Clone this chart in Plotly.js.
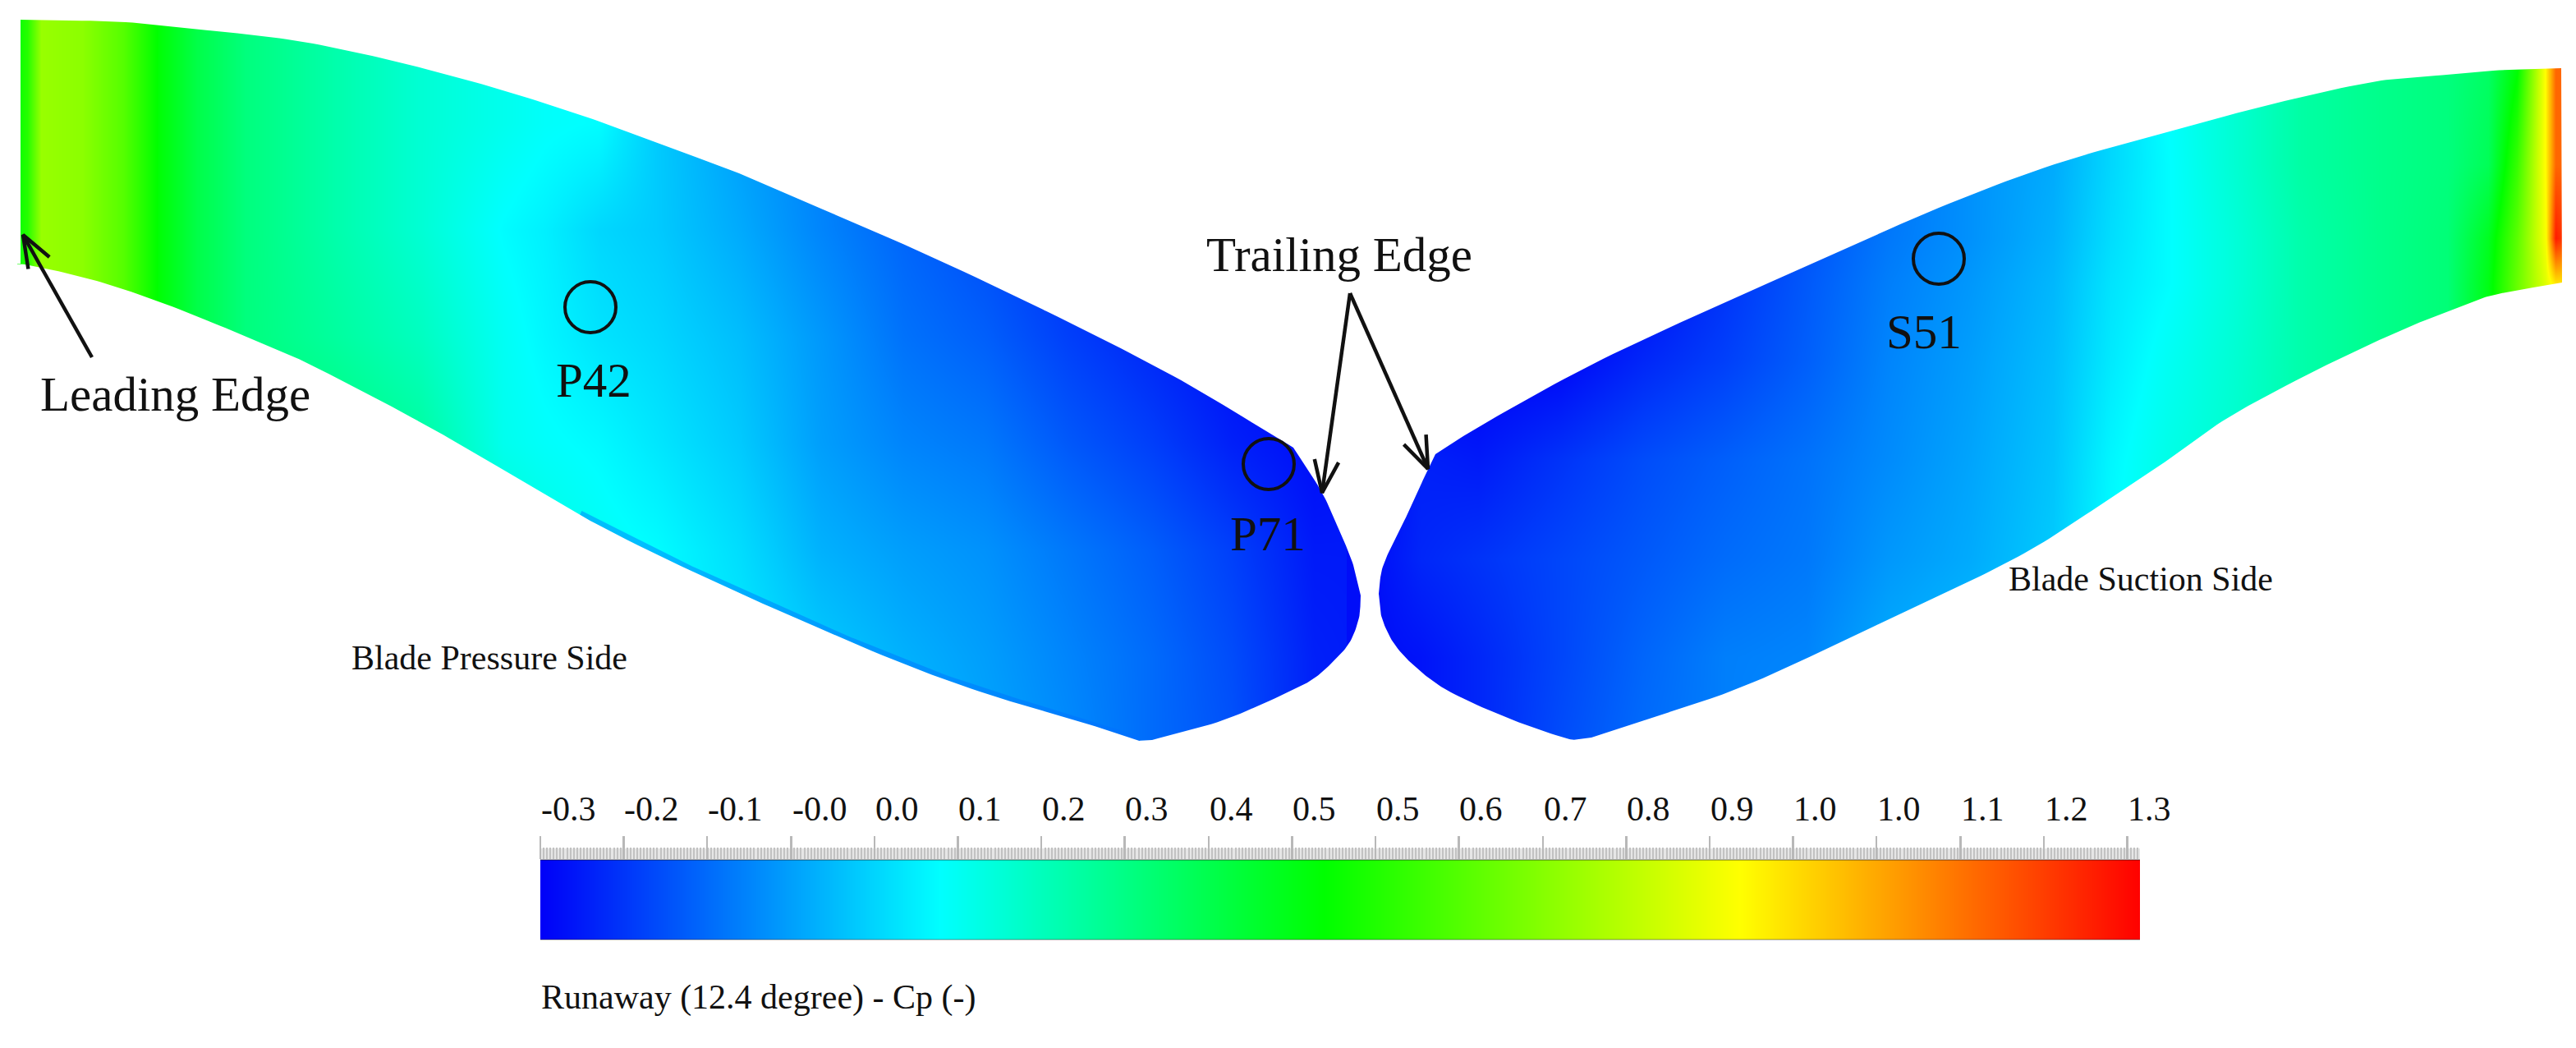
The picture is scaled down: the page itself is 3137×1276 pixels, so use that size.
<!DOCTYPE html>
<html>
<head>
<meta charset="utf-8">
<script src="https://cdn.plot.ly/plotly-3.0.1.min.js"></script>
<style>
  html, body { margin: 0; padding: 0; background: #fff; }
</style>
</head>
<body>
<div id="myPlot" style="width:3137px;height:1276px;"></div>
<script>
// Cp scale
var colorStops = [[0, "#0000f8"], [0.25, "#00ffff"], [0.49, "#00ff00"], [0.75, "#ffff00"], [1, "#ff0000"]];
var cpMin = -0.30;
var cpMax = 1.313;
var barValues = [-0.30, -0.20, -0.10, 0.00, 0.10, 0.20, 0.30, 0.40, 0.50, 0.60, 0.70, 0.80, 0.90, 1.00, 1.10, 1.20, 1.313];
var tickValues = [-0.300, -0.216, -0.132, -0.047, 0.037, 0.121, 0.205, 0.289, 0.374, 0.458, 0.542, 0.626, 0.711, 0.795, 0.879, 0.963, 1.047, 1.132, 1.216, 1.300];
var tickLabels = ["-0.3", "-0.2", "-0.1", "-0.0", "0.0", "0.1", "0.2", "0.3", "0.4", "0.5", "0.5", "0.6", "0.7", "0.8", "0.9", "1.0", "1.0", "1.1", "1.2", "1.3"];

// pressure side field
var leftX = [25, 33, 50, 100, 150, 194, 240, 300, 408, 510, 612, 663, 730, 800, 900, 1000, 1100, 1200, 1300, 1400, 1500, 1600, 1670];
var leftY = [20, 150, 280, 410, 540, 670, 800, 910];
var leftZ = [
  [.52, .55, .74, .72, .63, .48, .38, .30, .23, .17, .13, .11, .09, .02, -.05, -.10, -.15, -.20, -.24, -.28, -.30, -.30, -.29],
  [.52, .55, .74, .72, .63, .48, .38, .30, .23, .17, .13, .11, .10, .02, -.05, -.10, -.15, -.20, -.24, -.28, -.30, -.30, -.29],
  [.52, .55, .74, .72, .63, .48, .38, .30, .23, .17, .10, .08, .04, .02, -.03, -.09, -.14, -.18, -.23, -.27, -.30, -.30, -.28],
  [.52, .55, .74, .72, .63, .48, .38, .30, .25, .20, .12, .09, .06, .04, .00, -.06, -.12, -.15, -.20, -.24, -.28, -.30, -.28],
  [.52, .55, .74, .72, .63, .48, .38, .32, .30, .25, .13, .11, .095, .065, .02, -.05, -.09, -.11, -.16, -.20, -.25, -.28, -.27],
  [.52, .55, .74, .72, .63, .48, .38, .32, .30, .25, .18, .15, .12, .10, .05, -.02, -.05, -.07, -.11, -.15, -.20, -.26, -.26],
  [.52, .55, .74, .72, .63, .48, .38, .32, .30, .25, .18, .15, .12, .10, .07, .02, -.02, -.05, -.09, -.13, -.18, -.25, -.26],
  [.52, .55, .74, .72, .63, .48, .38, .32, .30, .25, .18, .15, .12, .10, .07, .03, .00, -.04, -.08, -.13, -.17, -.25, -.26]
];

// suction side field
var rightX = [1670, 1730, 1800, 1900, 2000, 2100, 2200, 2300, 2400, 2500, 2570, 2640, 2720, 2800, 2900, 2980, 3030, 3065, 3100, 3112, 3125];
var rightY = [80, 200, 290, 345, 440, 560, 680, 800, 910];
var rightZ = [
  [-.30, -.30, -.30, -.30, -.29, -.22, -.17, -.12, -.07, -.03, .04, .11, .17, .24, .28, .30, .34, .48, .92, 1.15, 1.15],
  [-.30, -.30, -.30, -.30, -.29, -.22, -.17, -.12, -.07, -.03, .04, .10, .17, .24, .28, .30, .36, .58, .92, 1.15, 1.15],
  [-.30, -.30, -.30, -.30, -.29, -.23, -.17, -.11, -.07, -.02, .05, .10, .16, .23, .28, .31, .44, .64, .90, 1.27, 1.20],
  [-.30, -.30, -.30, -.30, -.28, -.22, -.16, -.10, -.06, -.01, .06, .10, .16, .23, .28, .31, .46, .66, .86, .95, .95],
  [-.30, -.30, -.30, -.29, -.24, -.20, -.15, -.09, -.05, .00, .07, .12, .17, .23, .28, .31, .46, .66, .86, .95, .95],
  [-.29, -.25, -.26, -.22, -.18, -.15, -.12, -.08, -.04, .01, .09, .14, .18, .23, .28, .31, .46, .66, .86, .95, .95],
  [-.28, -.24, -.22, -.19, -.16, -.13, -.11, -.06, -.03, .02, .10, .15, .19, .23, .28, .31, .46, .66, .86, .95, .95],
  [-.28, -.27, -.24, -.19, -.14, -.10, -.09, -.03, .00, .04, .12, .16, .19, .23, .28, .31, .46, .66, .86, .95, .95],
  [-.28, -.27, -.24, -.18, -.13, -.10, -.07, -.03, .00, .04, .12, .16, .19, .23, .28, .31, .46, .66, .86, .95, .95]
];

// blade outlines, image pixels. breaks = index of a sharp corner
var leftUpperX = [25, 153, 255, 357, 453, 530, 606, 683, 759, 836, 900, 972, 1144, 1317, 1431, 1518, 1575, 1610, 1632, 1648, 1657];
var leftUpperY = [24, 27, 37, 49, 68, 87, 108, 132, 158, 187, 211, 242, 317, 400, 459, 510, 545, 600, 648, 688, 725];
var leftUpperBreaks = [16];
var leftLowerX = [25, 66, 128, 204, 281, 357, 400, 477, 553, 630, 706, 783, 859, 936, 1087, 1202, 1317, 1386, 1403, 1489, 1575, 1600, 1620, 1643, 1655, 1657];
var leftLowerY = [321, 329, 345, 371, 402, 434, 455, 495, 537, 582, 627, 667, 703, 738, 803, 845, 879, 902, 901, 877, 840, 826, 809, 783, 752, 725];
var leftLowerBreaks = [17, 18];
var rightUpperX = [1679, 1683, 1697, 1717, 1738, 1748, 1800, 1940, 2081, 2221, 2361, 2502, 2642, 2782, 2900, 2967, 3050, 3119];
var rightUpperY = [723, 693, 660, 620, 573, 553, 520, 443, 377, 315, 253, 200, 160, 123, 98, 92, 85, 83];
var rightUpperBreaks = [5];
var rightLowerX = [1679, 1683, 1700, 1733, 1767, 1833, 1900, 1915, 1938, 2112, 2250, 2400, 2477, 2553, 2630, 2706, 2783, 2859, 2936, 3000, 3033, 3120];
var rightLowerY = [723, 753, 787, 820, 843, 873, 897, 901, 898, 840, 778, 707, 667, 618, 567, 513, 470, 432, 397, 372, 360, 344];
var rightLowerBreaks = [7, 8];
var edgeStripX = [706, 783, 859, 936, 1087, 1202, 1317, 1386];
var edgeStripY = [627, 667, 703, 738, 803, 845, 879, 902];

// probe circles
var probeNames = ["P42", "P71", "S51"];
var probeX = [719, 1545, 2361];
var probeY = [374, 565, 315];
var probeLabelX = [723, 1544, 2343];
var probeLabelY = [463, 650, 404];

// arrows: head and tail
var arrowHeadX = [28, 1610, 1739];
var arrowHeadY = [286, 600, 571];
var arrowTailX = [112, 1644, 1644];
var arrowTailY = [435, 357, 357];

// round the outline between the corners, only for the look of the edge
function smoothPiece(xs, ys, outX, outY) {
  var n = xs.length;
  var t = [0];
  for (var i = 1; i < n; i++) {
    t.push(t[i - 1] + Math.hypot(xs[i] - xs[i - 1], ys[i] - ys[i - 1]));
  }
  function slope(v, i) {
    var a = Math.max(i - 1, 0), b = Math.min(i + 1, n - 1);
    return (v[b] - v[a]) / (t[b] - t[a]);
  }
  for (var s = 0; s < n - 1; s++) {
    var h = t[s + 1] - t[s];
    for (var q = 0; q < 12; q++) {
      var u = q / 12, u2 = u * u, u3 = u2 * u;
      var h00 = 2 * u3 - 3 * u2 + 1, h10 = u3 - 2 * u2 + u, h01 = -2 * u3 + 3 * u2, h11 = u3 - u2;
      outX.push(h00 * xs[s] + h10 * h * slope(xs, s) + h01 * xs[s + 1] + h11 * h * slope(xs, s + 1));
      outY.push(h00 * ys[s] + h10 * h * slope(ys, s) + h01 * ys[s + 1] + h11 * h * slope(ys, s + 1));
    }
  }
}
function smoothOutline(xs, ys, breaks) {
  var outX = [], outY = [];
  var cuts = [0].concat(breaks, [xs.length - 1]);
  for (var c = 0; c < cuts.length - 1; c++) {
    smoothPiece(xs.slice(cuts[c], cuts[c + 1] + 1), ys.slice(cuts[c], cuts[c + 1] + 1), outX, outY);
  }
  outX.push(xs[xs.length - 1]);
  outY.push(ys[ys.length - 1]);
  return {x: outX, y: outY};
}

function whiteMask(xs, ys) {
  return {x: xs, y: ys, mode: "lines", fill: "toself", fillcolor: "#ffffff",
    line: {width: 0, color: "#ffffff"}, hoverinfo: "skip", showlegend: false};
}

var gap = 1668;
var lu = smoothOutline(leftUpperX, leftUpperY, leftUpperBreaks);
var ll = smoothOutline(leftLowerX, leftLowerY, leftLowerBreaks);
var ru = smoothOutline(rightUpperX, rightUpperY, rightUpperBreaks);
var rl = smoothOutline(rightLowerX, rightLowerY, rightLowerBreaks);
var es = smoothOutline(edgeStripX, edgeStripY, []);

var maskTopLeft = whiteMask(
  [0, gap, gap].concat(lu.x.slice().reverse(), [25, 0]),
  [0, 0, 725].concat(lu.y.slice().reverse(), [321, 321]));
var maskBottomLeft = whiteMask(
  [0].concat(ll.x, [gap, gap, 0]),
  [321].concat(ll.y, [725, 1010, 1010]));
var maskTopRight = whiteMask(
  [gap, 3137, 3137, 3120].concat(ru.x.slice().reverse(), [gap]),
  [0, 0, 344, 344].concat(ru.y.slice().reverse(), [723]));
var maskBottomRight = whiteMask(
  [gap].concat(rl.x, [3137, 3137, gap]),
  [723].concat(rl.y, [344, 1010, 1010]));

var arrowX = [], arrowY = [];
for (var a = 0; a < arrowHeadX.length; a++) {
  var ang = Math.atan2(arrowTailY[a] - arrowHeadY[a], arrowTailX[a] - arrowHeadX[a]);
  var barb = 42, spread = 0.36;
  arrowX.push(arrowTailX[a], arrowHeadX[a], null,
    arrowHeadX[a] + barb * Math.cos(ang - spread), arrowHeadX[a], arrowHeadX[a] + barb * Math.cos(ang + spread), null);
  arrowY.push(arrowTailY[a], arrowHeadY[a], null,
    arrowHeadY[a] + barb * Math.sin(ang - spread), arrowHeadY[a], arrowHeadY[a] + barb * Math.sin(ang + spread), null);
}

var data = [
  {type: "heatmap", x: leftX, y: leftY, z: leftZ, zmin: cpMin, zmax: cpMax, zsmooth: "best",
    colorscale: colorStops, showscale: false, hoverinfo: "skip"},
  {type: "heatmap", x: rightX, y: rightY, z: rightZ, zmin: cpMin, zmax: cpMax, zsmooth: "best",
    colorscale: colorStops, showscale: false, hoverinfo: "skip"},
  {x: es.x, y: es.y, mode: "lines", line: {color: "rgba(0,110,255,0.45)", width: 11},
    hoverinfo: "skip", showlegend: false},
  maskTopLeft, maskBottomLeft, maskTopRight, maskBottomRight,
  {x: arrowX, y: arrowY, mode: "lines", line: {color: "#111", width: 4.5}, hoverinfo: "skip", showlegend: false},
  {type: "heatmap", x: barValues, y: [0, 1], z: [barValues, barValues], zmin: cpMin, zmax: cpMax,
    zsmooth: "best", colorscale: colorStops, showscale: false, xaxis: "x2", yaxis: "y2", hoverinfo: "skip"}
];

var serif = "Liberation Serif, Times New Roman, serif";
var notes = [];

function addText(txt, x, y, size, anchor) {
  notes.push({text: txt, x: x, y: y, xref: "x", yref: "y", showarrow: false, xanchor: anchor || "center",
    yanchor: "middle", borderpad: 0, font: {family: serif, size: size, color: "#111"}});
}

addText("Leading Edge", 213, 480, 59);
addText("Trailing Edge", 1631, 310, 59);
addText("Blade Pressure Side", 596, 801, 42);
addText("Blade Suction Side", 2607, 705, 42);
addText("Runaway (12.4 degree) - Cp (-)", 658, 1214, 42, "left");
for (var i = 0; i < probeNames.length; i++) {
  addText(probeNames[i], probeLabelX[i], probeLabelY[i], 59);
}

for (var k = 0; k < tickValues.length; k++) {
  notes.push({text: tickLabels[k], x: tickValues[k], y: 985, xref: "x2", yref: "y", showarrow: false,
    xanchor: "left", yanchor: "middle", borderpad: 0, font: {family: serif, size: 42, color: "#111"}});
}

var shapes = [
  // pale band behind the minor ticks
  {type: "rect", xref: "x", yref: "y", x0: 658, x1: 2606, y0: 1033, y1: 1047, fillcolor: "#e6e6e6", line: {width: 0}, layer: "below"},
  // darker rim of the bar
  {type: "line", xref: "x", yref: "y", x0: 658, x1: 2606, y0: 1047, y1: 1047, line: {color: "rgba(0,0,0,0.28)", width: 2}, layer: "above"},
  {type: "line", xref: "x", yref: "y", x0: 658, x1: 2606, y0: 1144, y1: 1144, line: {color: "rgba(0,0,0,0.22)", width: 2}, layer: "above"}
];
for (var j = 0; j < probeX.length; j++) {
  shapes.push({type: "circle", xref: "x", yref: "y", x0: probeX[j] - 31, x1: probeX[j] + 31,
    y0: probeY[j] - 31, y1: probeY[j] + 31, line: {color: "#111", width: 4}, layer: "above"});
}

var layout = {
  width: 3137, height: 1276,
  margin: {l: 0, r: 0, t: 0, b: 0},
  paper_bgcolor: "#fff", plot_bgcolor: "rgba(0,0,0,0)",
  showlegend: false,
  xaxis: {range: [0, 3137], visible: false, domain: [0, 1]},
  yaxis: {range: [1276, 0], visible: false, domain: [0, 1]},
  xaxis2: {
    domain: [658 / 3137, 2606 / 3137], range: [cpMin, cpMax], anchor: "y2", side: "top",
    showgrid: false, zeroline: false, showticklabels: false,
    tickmode: "array", tickvals: tickValues, ticks: "outside", ticklen: 28, tickwidth: 2.5, tickcolor: "#b8b8b8",
    minor: {ticks: "outside", ticklen: 14, tickwidth: 2, tickcolor: "#c2c2c2", tickmode: "linear", tick0: -0.3, dtick: 0.00337, showgrid: false}
  },
  yaxis2: {domain: [1 - 1144 / 1276, 1 - 1047 / 1276], range: [0, 1], anchor: "x2", visible: false},
  annotations: notes,
  shapes: shapes
};

Plotly.newPlot("myPlot", data, layout, {displayModeBar: false, staticPlot: true});
</script>
</body>
</html>
